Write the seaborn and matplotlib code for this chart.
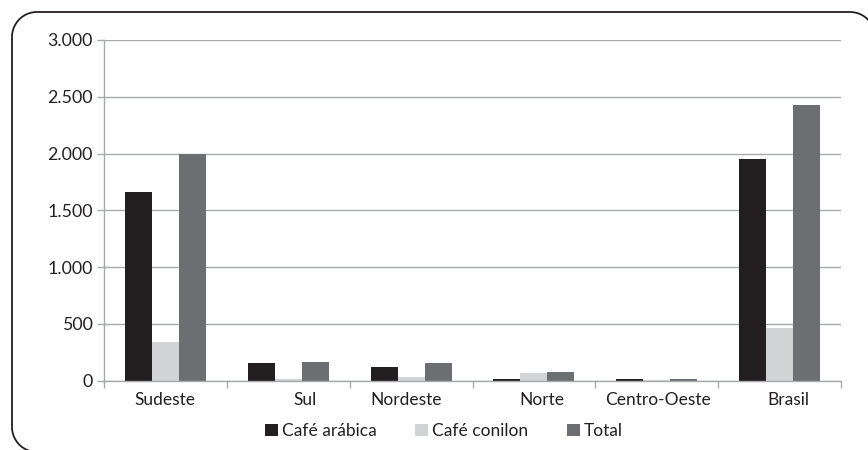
import matplotlib
matplotlib.use("Agg")
import matplotlib.pyplot as plt
import matplotlib.transforms as mtransforms
from matplotlib.patches import Patch
from matplotlib.path import Path
from matplotlib.patches import PathPatch
from matplotlib.ticker import FuncFormatter
import numpy as np
import pandas as pd
import seaborn as sns

# Produção de café por região (mil sacas)
regioes = ["Sudeste", "Sul", "Nordeste", "Norte", "Centro-Oeste", "Brasil"]
series = ["Café arábica", "Café conilon", "Total"]
arabica = [1659, 154, 119, 13, 13, 1950]
conilon = [341, 13, 31, 66, 8, 462]
total = [2000, 163, 154, 75, 16, 2425]
y_ticks = [0, 500, 1000, 1500, 2000, 2500, 3000]

cores = ["#231f20", "#d1d3d4", "#6d6e71"]
texto = "#231f20"
grade = "#a7a9ac"

df = pd.DataFrame({
    "Região": regioes * 3,
    "Série": [s for s in series for _ in regioes],
    "Valor": arabica + conilon + total,
})

sns.set_theme(style="white")
plt.rcParams["font.family"] = ["Lato", "DejaVu Sans"]

W, H = 868, 450
fig = plt.figure(figsize=(W / 100, H / 100), dpi=100)
ax = fig.add_axes([104 / W, 1 - 380.5 / H, (841 - 104) / W, (380.5 - 40) / H])

sns.barplot(data=df, x="Região", y="Valor", hue="Série", order=regioes,
            hue_order=series, palette=cores, width=0.66, gap=0,
            saturation=1, edgecolor="none", linewidth=0, ax=ax, legend=False)

ax.set_ylim(0, 3000)
ax.set_xlim(-0.5, len(regioes) - 0.5)
ax.set_yticks(y_ticks)
ax.yaxis.set_major_formatter(FuncFormatter(lambda v, p: f"{int(v):,}".replace(",", ".")))
ax.set_xlabel("")
ax.set_ylabel("")

ax.grid(axis="y", color=grade, linewidth=1.0)
ax.set_axisbelow(True)
for s in ["top", "right"]:
    ax.spines[s].set_visible(False)
for s in ["left", "bottom"]:
    ax.spines[s].set_color(grade)
    ax.spines[s].set_linewidth(1.0)

# category separators on the x axis
ax.set_xticks([i + 0.5 for i in range(-1, len(regioes))], minor=True)
ax.tick_params(axis="x", which="minor", length=5, color=grade, width=1, direction="out", bottom=True)
ax.tick_params(axis="x", which="major", length=0, pad=8, labelsize=12.5, labelcolor=texto)
ax.tick_params(axis="y", length=5, color=grade, width=1, direction="out", left=True,
               pad=3, labelsize=12.8, labelcolor=texto)

# horizontal nudges of the category labels (pixels)
nudges = [-1, 17, -5, 8, 1, 9]
for lbl, dx in zip(ax.get_xticklabels(), nudges):
    lbl.set_transform(lbl.get_transform() + mtransforms.ScaledTranslation(dx / 100, 0, fig.dpi_scale_trans))

handles = [Patch(facecolor=c, edgecolor="none") for c in cores]
fig.legend(handles, series, loc="center", bbox_to_anchor=(444 / W, 1 - 431 / H),
           ncol=3, frameon=False, fontsize=12.5, handlelength=0.75, handleheight=0.75,
           handletextpad=0.25, columnspacing=2.2, labelcolor=texto)

# rounded frame: open path through the top-left corner, running off the right and bottom edges
r = 25
left, top = 12, 12
t = np.linspace(np.pi / 2, np.pi, 20)
arc_x = left + r + r * np.cos(t)
arc_y = top + r - r * np.sin(t)
tr = np.linspace(0, np.pi / 2, 20)
tr_x = 850 + r * np.cos(tr)
tr_y = top + r - r * np.sin(tr)
bl = np.linspace(np.pi, 3 * np.pi / 2, 20)
bl_x = left + r + r * np.cos(bl)
bl_y = 452 - r - r * np.sin(bl)
xs = np.concatenate([tr_x[::-1][::-1], arc_x, bl_x])
ys = np.concatenate([tr_y[::-1][::-1], arc_y, bl_y])
frame_px = np.column_stack([xs / W, 1 - ys / H])
fig.add_artist(PathPatch(Path(frame_px), transform=fig.transFigure, facecolor="none",
                         edgecolor=texto, linewidth=1.3, clip_on=False))

fig.savefig("out.png", dpi=100)
